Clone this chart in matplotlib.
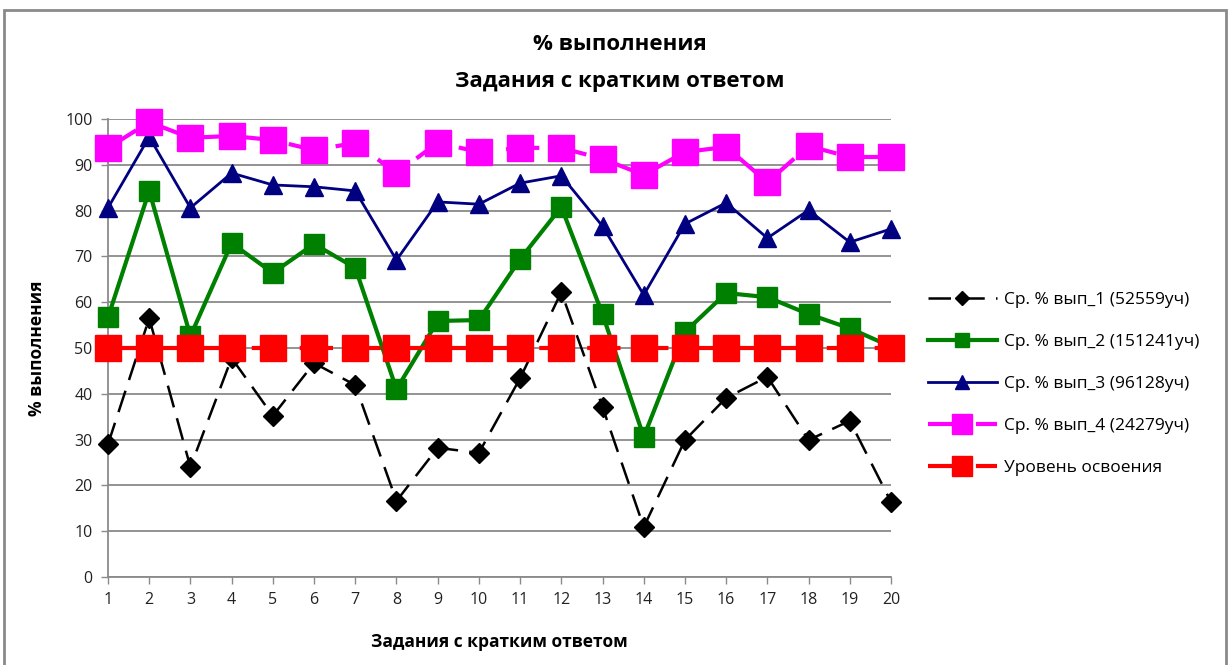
import matplotlib.pyplot as plt
from matplotlib.patches import Rectangle

# Task numbers
tasks = list(range(1, 21))

# Average % by group
vyp_1 = [29.0, 56.5, 24.0, 47.8, 35.2, 46.7, 41.9, 16.6, 28.2, 27.1,
         43.4, 62.2, 37.1, 10.9, 29.9, 39.1, 43.7, 29.9, 34.1, 16.4]
vyp_2 = [56.7, 84.3, 52.6, 72.9, 66.4, 72.7, 67.5, 41.0, 55.9, 56.1,
         69.4, 80.8, 57.4, 30.6, 53.5, 62.0, 61.1, 57.4, 54.3, 50.3]
vyp_3 = [80.6, 96.1, 80.6, 88.2, 85.6, 85.2, 84.3, 69.2, 81.9, 81.4,
         86.0, 87.6, 76.6, 61.6, 77.1, 81.7, 74.0, 80.1, 73.1, 76.0]
vyp_4 = [93.7, 99.3, 95.9, 96.3, 95.4, 93.2, 94.8, 88.2, 94.8, 92.8,
         93.7, 93.7, 91.3, 87.8, 92.8, 93.9, 86.2, 94.1, 91.7, 91.7]
level = [50] * 20

labels = ['Ср. % вып_1 (52559уч)', 'Ср. % вып_2 (151241уч)',
          'Ср. % вып_3 (96128уч)', 'Ср. % вып_4 (24279уч)',
          'Уровень освоения']

plt.rcParams['font.family'] = ['Open Sans', 'DejaVu Sans']

fig = plt.figure(figsize=(12.28, 6.65), dpi=100)
ax = fig.add_axes([108 / 1228, 1 - 577 / 665, (891 - 108) / 1228, (577 - 119) / 665])

# Frame around the whole chart
fig.patches.append(Rectangle((4 / 1228, -0.1), 1222 / 1228, 1.1 - 10 / 665,
                             transform=fig.transFigure, fill=False,
                             edgecolor='#8a8a8a', linewidth=2))

ax.plot(tasks, vyp_1, color='black', lw=1.8, dashes=(9, 4.5), marker='D',
        markersize=10, label=labels[0], zorder=3, clip_on=False)
ax.plot(tasks, vyp_2, color='#008000', lw=3, marker='s', markersize=14,
        label=labels[1], zorder=4, clip_on=False)
ax.plot(tasks, vyp_3, color='#000080', lw=2, marker='^', markersize=13,
        label=labels[2], zorder=5, clip_on=False)
ax.plot(tasks, vyp_4, color='#ff00ff', lw=3, dashes=(8, 3.5), marker='s',
        markersize=19, label=labels[3], zorder=6, clip_on=False)
ax.plot(tasks, level, color='#ff0000', lw=3, dashes=(8, 3.5), marker='s',
        markersize=19, label=labels[4], zorder=7, clip_on=False)

ax.set_xlim(1, 20)
ax.set_ylim(0, 100)
ax.set_xticks(tasks)
ax.set_yticks(range(0, 101, 10))
ax.tick_params(labelsize=11.5, colors='#222222', length=5, width=1,
               color='#8a8a8a', pad=6)
ax.grid(axis='y', color='#8a8a8a', lw=1.3)
ax.set_axisbelow(True)
for s in ['top', 'right']:
    ax.spines[s].set_visible(False)
for s in ['left', 'bottom']:
    ax.spines[s].set_color('#8a8a8a')
    ax.spines[s].set_linewidth(1.3)

ax.set_ylabel('% выполнения', fontsize=12.5, fontweight='bold', labelpad=14)
ax.set_xlabel('Задания с кратким ответом', fontsize=12.5, fontweight='bold',
              labelpad=18)

fig.text(620 / 1228, 1 - 45 / 665, '% выполнения', ha='center', va='center',
         fontsize=16, fontweight='bold')
fig.text(620 / 1228, 1 - 81 / 665, 'Задания с кратким ответом', ha='center',
         va='center', fontsize=16, fontweight='bold')

fig.legend(loc='center left', bbox_to_anchor=(912 / 1228, 1 - 384 / 665),
           frameon=False, fontsize=12.5, handlelength=4.0, labelspacing=1.5,
           markerscale=0.75, handletextpad=0.4)

fig.savefig('out.png', dpi=100)
